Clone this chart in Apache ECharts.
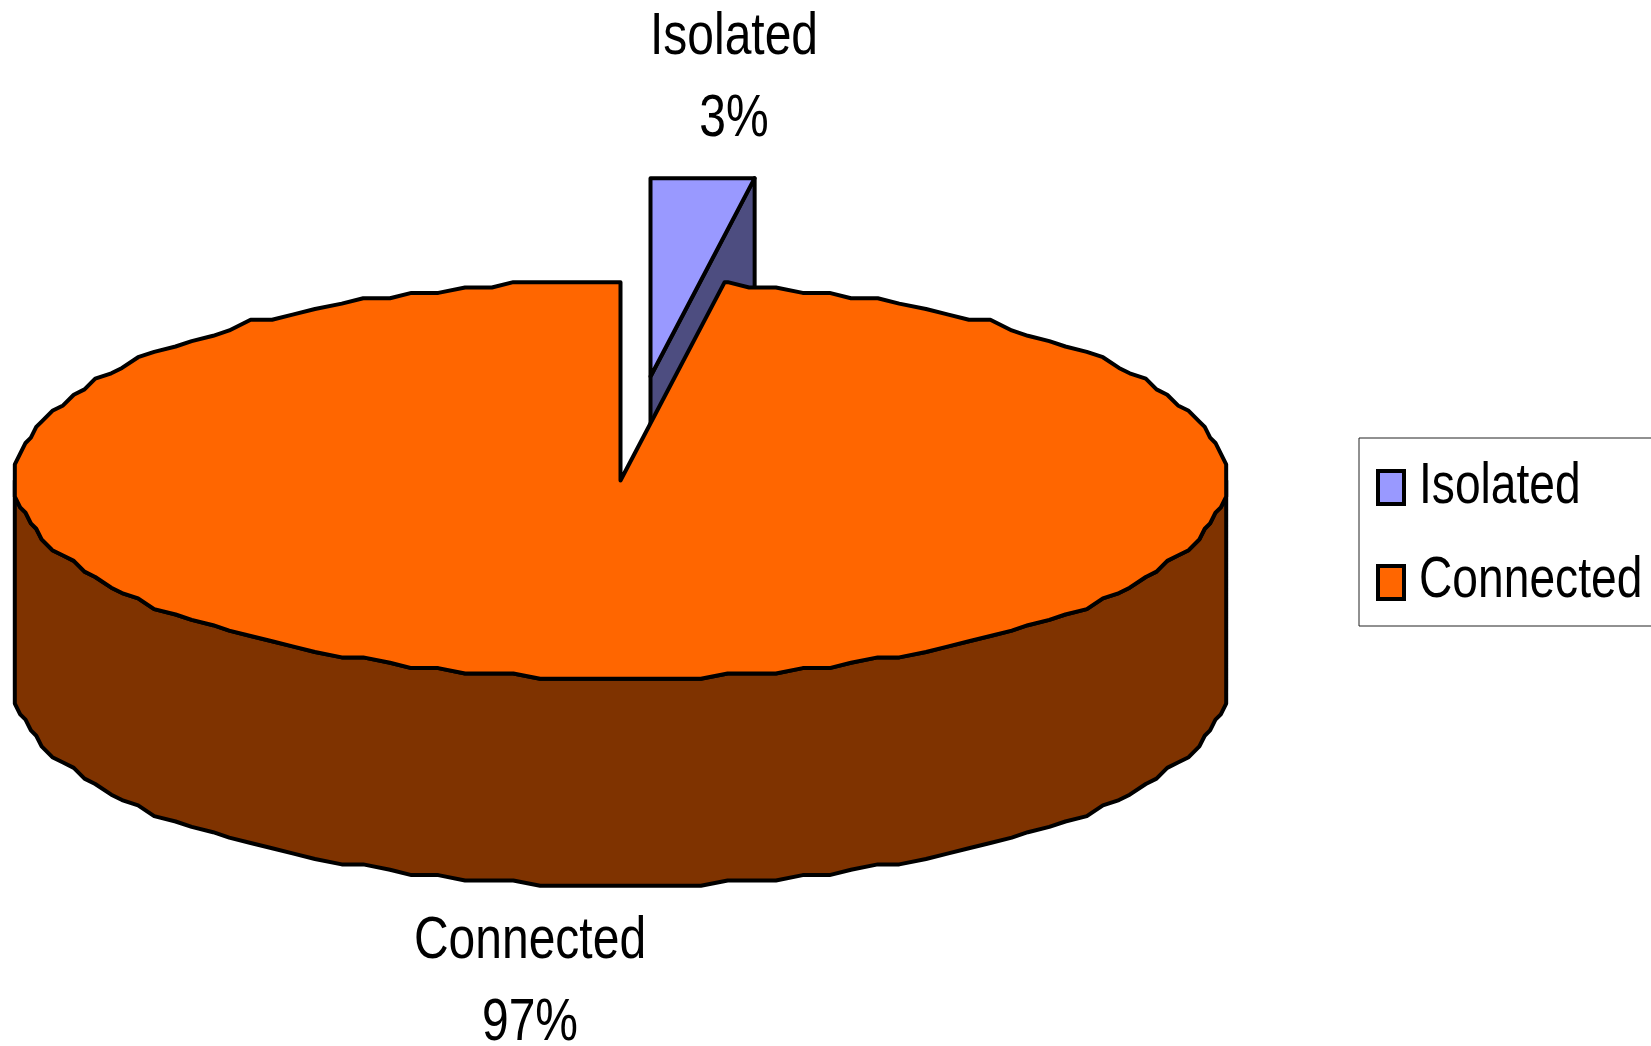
<!DOCTYPE html>
<html>
<head>
<meta charset="utf-8">
<style>
  html, body { margin: 0; padding: 0; background: #fff; overflow: hidden; }
  #eChart { width: 1651px; height: 1046px; }
</style>
<script src="https://cdn.jsdelivr.net/npm/echarts@6/dist/echarts.min.js"></script>
</head>
<body>
<div id="eChart"></div>
<script>
const categories = ["Isolated", "Connected"];
const shares = [2.75, 97.25];
const topColors = ["#9999FF", "#FF6600"];
const sideColors = ["#4D4D80", "#7F3300"];

// pie geometry, px
const cx = 620.5;
const cy = 480.5;
const rx = 605.7;
const ry = 198.3;
const depth = 207;
const snapSize = 5.36; // the source has a coarse outline, rim points sit on this grid
const stepDeg = 2.5;
const explode = [{ x: 30, y: -104 }, { x: 0, y: 0 }];
const labelPos = [
  { x: 734, y: 37, gap: 82 },
  { x: 530, y: 941, gap: 82 },
];
const legendTextPos = [
  { x: 1419, y: 487 },
  { x: 1419, y: 581 },
];
// no condensed font is installed, so the text is squeezed sideways
const fontFamily = '"Liberation Sans", Arial, sans-serif';
const labelSqueeze = 0.8;
const legendSqueeze = 0.81;

const total = shares.reduce((a, b) => a + b, 0);

function rim(deg, off, rawX) {
  const a = (deg * Math.PI) / 180;
  const px = rx * Math.sin(a);
  const sx = rawX ? px : Math.round(px / snapSize) * snapSize;
  const sy = Math.round((-ry * Math.cos(a)) / snapSize - 0.15) * snapSize;
  return [cx + sx + off.x, cy + sy + off.y];
}

function rimArc(from, to, off) {
  const pts = [rim(from, off, true)];
  for (let d = Math.ceil(from / stepDeg + 0.01) * stepDeg; d < to; d += stepDeg) {
    pts.push(rim(d, off));
  }
  pts.push(rim(to, off, true));
  return pts;
}

function drop(pts) {
  return pts.map((p) => [p[0], p[1] + depth]).reverse();
}

function poly(points, fill) {
  return {
    type: "polygon",
    shape: { points },
    style: { fill, stroke: "#000", lineWidth: 4, lineJoin: "round" },
  };
}

function squeezedText(text, x, y, size, squeeze, align) {
  return {
    type: "text",
    x,
    y,
    scaleX: squeeze,
    style: {
      text,
      x: 0,
      y: 0,
      fontSize: size,
      fontFamily,
      fill: "#000",
      align,
      verticalAlign: "middle",
    },
  };
}

function renderSlice(index) {
  const before = shares.slice(0, index).reduce((a, b) => a + b, 0);
  const from = (before / total) * 360;
  const to = ((before + shares[index]) / total) * 360;
  const off = explode[index];
  const tip = [cx + off.x, cy + off.y];
  const children = [];

  if (index === 0) {
    // only the cut face shows, the rest is behind the big slice
    const edge = rim(to, off, true);
    children.push(poly([tip, edge, [edge[0], edge[1] + depth], [tip[0], tip[1] + depth]], sideColors[index]));
  } else {
    const front = rimArc(90, 270, off);
    children.push(poly(front.concat(drop(front)), sideColors[index]));
  }
  children.push(poly([tip].concat(rimArc(from, to, off)), topColors[index]));

  const pos = labelPos[index];
  children.push(squeezedText(categories[index], pos.x, pos.y, 60, labelSqueeze, "center"));
  children.push(squeezedText(Math.round((shares[index] / total) * 100) + "%", pos.x, pos.y + pos.gap, 60, labelSqueeze, "center"));
  return { type: "group", children };
}

const myChart = echarts.init(document.getElementById("eChart"), null, { renderer: "canvas" });
myChart.setOption({
  animation: false,
  backgroundColor: "#fff",
  color: topColors,
  legend: {
    orient: "vertical",
    left: 1359,
    top: 438,
    padding: [31, 300, 25, 17],
    backgroundColor: "#fff",
    borderColor: "#222",
    borderWidth: 1,
    borderRadius: 0,
    itemWidth: 26,
    itemHeight: 33,
    itemGap: 58,
    selectedMode: false,
    icon: "rect",
    itemStyle: { borderColor: "#000", borderWidth: 4 },
    formatter: () => "",
    data: categories,
  },
  graphic: categories.map((name, index) => ({
    ...squeezedText(name, legendTextPos[index].x, legendTextPos[index].y, 57, legendSqueeze, "left"),
    z: 100,
  })),
  series: categories.map((name, index) => ({
    type: "custom",
    name,
    coordinateSystem: "none",
    itemStyle: { color: topColors[index] },
    data: [shares[index]],
    renderItem: () => renderSlice(index),
  })),
});
</script>
</body>
</html>
